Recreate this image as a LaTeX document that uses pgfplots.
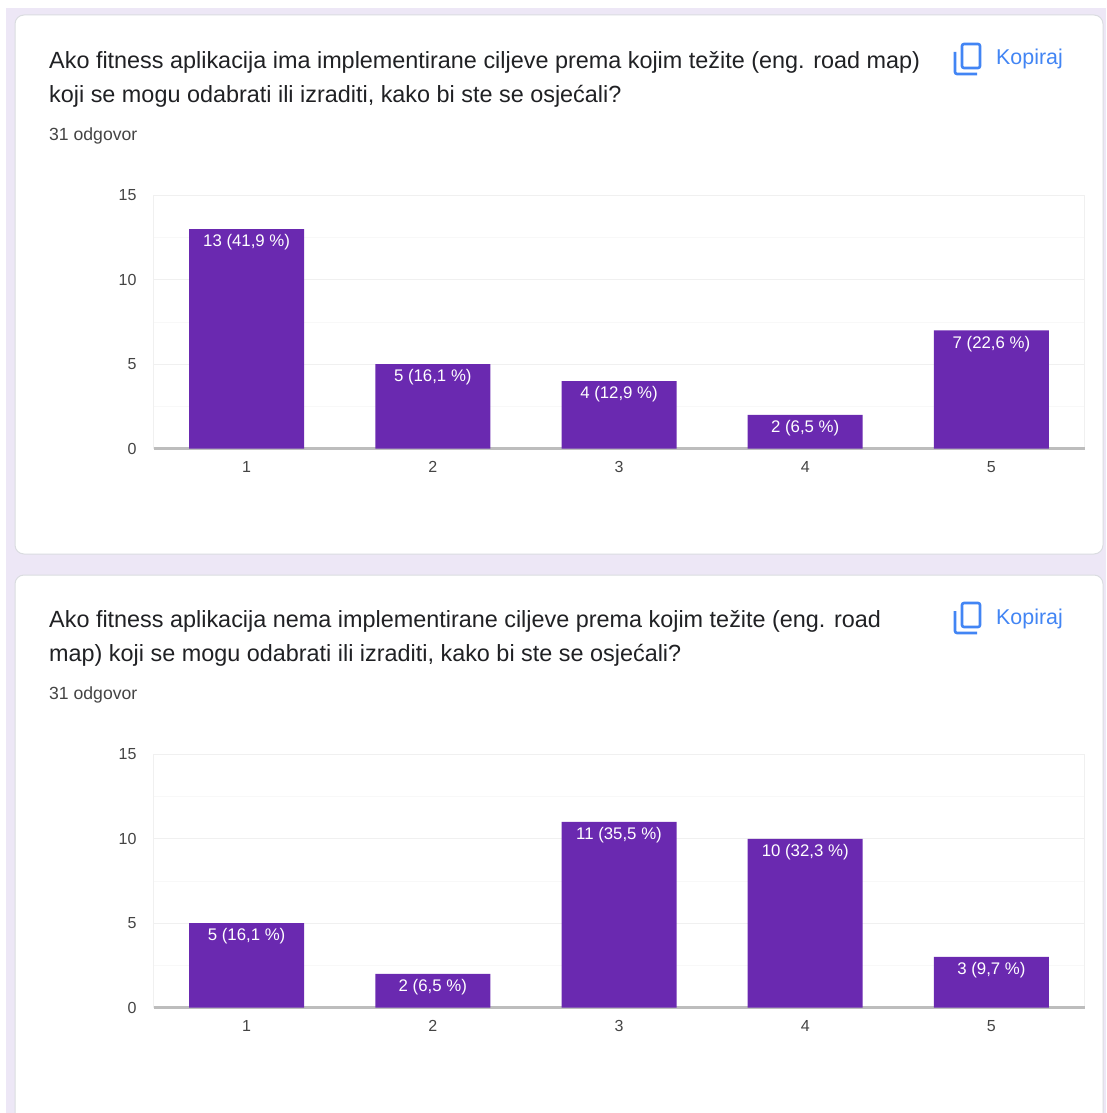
\documentclass[border=0pt]{standalone}
\usepackage{fontspec}
\setmainfont{Liberation Sans}
\usepackage{pgfplots}
\pgfplotsset{compat=1.18}
\definecolor{bgl}{HTML}{EDE7F6}
\definecolor{cardb}{HTML}{DADCE0}
\definecolor{barc}{HTML}{6A29B0}
\definecolor{gridc}{HTML}{F0F0F0}
\definecolor{gridm}{HTML}{F8F8F8}
\definecolor{axisc}{HTML}{BDBDBD}
\definecolor{linkc}{HTML}{4285F4}
\definecolor{titlec}{HTML}{202124}
\definecolor{tickc}{HTML}{444444}
\newcommand{\fs}[1]{\fontsize{#1}{#1}\selectfont}
\pgfplotsset{formschart/.style={
  scale only axis, width=931pt, height=253pt, anchor=origin,
  xmin=0.5, xmax=5.5, ymin=0, ymax=15, clip=false,
  ybar, bar width=115pt,
  xtick={1,2,3,4,5}, ytick={0,5,10,15},
  minor y tick num=1,
  major tick length=0pt, minor tick length=0pt,
  ymajorgrids, yminorgrids,
  major grid style={draw=gridc, line width=1pt},
  minor grid style={draw=gridm, line width=1pt},
  axis line style={draw=gridc, line width=1pt},
  tick label style={font=\fs{16}, text=tickc},
  xticklabel style={yshift=-9pt},
  yticklabel style={xshift=-13.5pt},
  /pgf/number format/assume math mode=true,
  point meta=explicit symbolic,
  nodes near coords,
  every node near coord/.append style={anchor=north, yshift=-2pt, text=white, font=\fs{16.8}},
}}
\newcommand{\iconat}[2]{%
  \draw[linkc, line width=2.6pt, rounded corners=2pt] (#1+7,#2-14) rectangle (#1+25,#2+10);
  \draw[linkc, line width=2.6pt, rounded corners=2pt] (#1,#2-6) -- (#1,#2+16) -- (#1+22,#2+16);
}
\begin{document}
\begin{tikzpicture}
\begin{scope}[x=1pt,y=-1pt]
\useasboundingbox (0,0) rectangle (1106,1113);
\fill[white] (0,0) rectangle (1106,1113);
\fill[bgl] (6,8) rectangle (1106,1113);
\begin{scope}
\clip (0,0) rectangle (1106,1113);
\filldraw[fill=white, draw=cardb, line width=1pt, rounded corners=9pt] (15,15) rectangle (1103,554);
\filldraw[fill=white, draw=cardb, line width=1pt, rounded corners=9pt] (15,575) rectangle (1103,1135);
\end{scope}
\node[anchor=base west, inner sep=0pt, text=titlec, font=\fs{23.4}] at (49,68.5) {Ako fitness aplikacija ima implementirane ciljeve prema kojim težite (eng. road map)};
\node[anchor=base west, inner sep=0pt, text=titlec, font=\fs{23.4}] at (49,102.5) {koji se mogu odabrati ili izraditi, kako bi ste se osjećali?};
\node[anchor=base west, inner sep=0pt, text=tickc, font=\fs{17.6}] at (49,140) {31 odgovor};
\iconat{955}{58}
\node[anchor=base west, inner sep=0pt, text=linkc, font=\fs{21.4}] at (996,65) {Kopiraj};
\node[anchor=base west, inner sep=0pt, text=titlec, font=\fs{23.4}] at (49,627.5) {Ako fitness aplikacija nema implementirane ciljeve prema kojim težite (eng. road};
\node[anchor=base west, inner sep=0pt, text=titlec, font=\fs{23.4}] at (49,661.5) {map) koji se mogu odabrati ili izraditi, kako bi ste se osjećali?};
\node[anchor=base west, inner sep=0pt, text=tickc, font=\fs{17.6}] at (49,699) {31 odgovor};
\iconat{955}{617}
\node[anchor=base west, inner sep=0pt, text=linkc, font=\fs{21.4}] at (996,624) {Kopiraj};
\end{scope}
\begin{axis}[formschart, at={(153.5pt,-448.5pt)}]
\draw[axisc, line width=3pt] (axis cs:0.5,0) -- (axis cs:5.5,0);
\addplot[fill=barc, draw=none] coordinates {(1,13)[13 (41,9 \%)] (2,5)[5 (16,1 \%)] (3,4)[4 (12,9 \%)] (4,2)[2 (6,5 \%)] (5,7)[7 (22,6 \%)]};
\end{axis}
\begin{axis}[formschart, at={(153.5pt,-1007.5pt)}]
\draw[axisc, line width=3pt] (axis cs:0.5,0) -- (axis cs:5.5,0);
\addplot[fill=barc, draw=none] coordinates {(1,5)[5 (16,1 \%)] (2,2)[2 (6,5 \%)] (3,11)[11 (35,5 \%)] (4,10)[10 (32,3 \%)] (5,3)[3 (9,7 \%)]};
\end{axis}
\end{tikzpicture}
\end{document}
